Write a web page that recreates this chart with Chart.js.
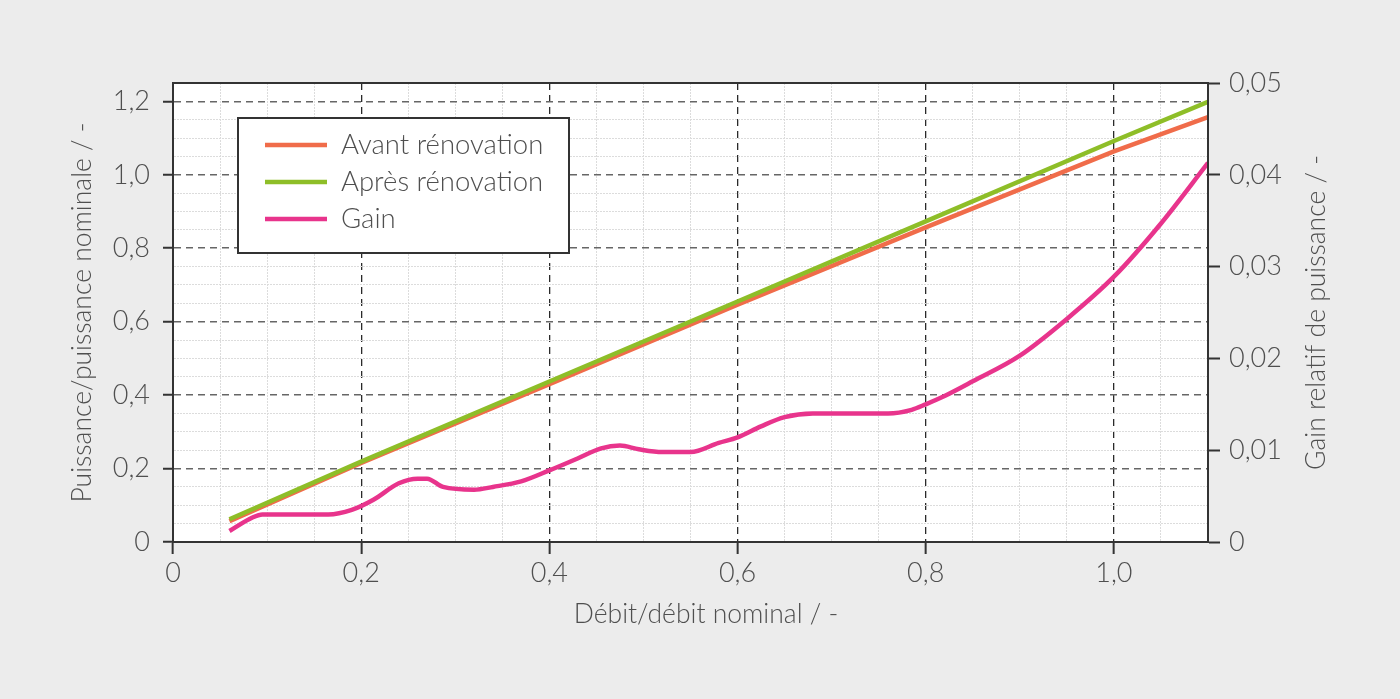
<!DOCTYPE html>
<html>
<head>
<meta charset="utf-8">
<script src="https://cdn.jsdelivr.net/npm/chart.js@4"></script>
<style>
  html, body { margin: 0; padding: 0; background: #ececec; }
  #wrap { width: 1400px; height: 699px; position: relative; }
</style>
</head>
<body>
<div id="wrap"><canvas id="chart"></canvas></div>
<script>
// puissance / puissance nominale (axe gauche)
const xPower = [0.06, 0.2, 0.4, 0.6, 0.8, 1.0, 1.1]
const avant = [0.057, 0.215, 0.430, 0.646, 0.857, 1.064, 1.157]
const apres = [0.062, 0.219, 0.437, 0.655, 0.873, 1.092, 1.199]

// gain relatif (axe droit)
const xGain = [0.06, 0.085, 0.095, 0.165, 0.19, 0.213, 0.24, 0.26, 0.27, 0.287, 0.32, 0.34, 0.37, 0.40, 0.43, 0.455, 0.475, 0.495, 0.52, 0.55, 0.58, 0.60, 0.625, 0.65, 0.68, 0.76, 0.785, 0.80, 0.82, 0.85, 0.90, 0.95, 1.0, 1.05, 1.1]
const gain = [0.0012, 0.0027, 0.0030, 0.0030, 0.0035, 0.0046, 0.0064, 0.0069, 0.0069, 0.0060, 0.0057, 0.0060, 0.0066, 0.0078, 0.0091, 0.0102, 0.0105, 0.0101, 0.0098, 0.0098, 0.0108, 0.0114, 0.0126, 0.0136, 0.0140, 0.0140, 0.0144, 0.0150, 0.0159, 0.0175, 0.0203, 0.0243, 0.0289, 0.0347, 0.0413]

const seriesLabels = ['Avant rénovation', 'Après rénovation', 'Gain']
const xTitle = 'Débit/débit nominal / -'
const yTitle = 'Puissance/puissance nominale / -'
const y2Title = 'Gain relatif de puissance / -'

const FONT = 'Lato'
const TEXT = '#4f4f4f'
const DARK = '#333'
const MINOR = '#dcdcdc'

const toPoints = (xs, ys) => xs.map((x, i) => ({ x, y: ys[i] }))
const isMajor = (v) => Math.round(v * 100) % 20 === 0
const fmt = (v, d) => (Math.abs(v) < 1e-9 ? '0' : v.toFixed(d).replace('.', ','))

const plotFrame = {
  id: 'plotFrame',
  beforeDraw(chart) {
    const { ctx, chartArea: a } = chart
    ctx.save()
    ctx.fillStyle = '#fff'
    ctx.fillRect(a.left, a.top, a.right - a.left, a.bottom - a.top)
    ctx.restore()
  },
  afterDraw(chart) {
    const { ctx, chartArea: a } = chart
    ctx.save()
    ctx.strokeStyle = DARK
    ctx.lineWidth = 2
    ctx.strokeRect(a.left, a.top, a.right - a.left, a.bottom - a.top)

    ctx.fillStyle = TEXT
    ctx.font = `300 26.5px ${FONT}`
    ctx.textAlign = 'center'
    ctx.textBaseline = 'middle'
    // titre axe x, un peu décalé à droite comme sur l'original
    ctx.fillText(xTitle, 706, 614)
    // titre axe droit, lu de bas en haut
    ctx.translate(1316, (a.top + a.bottom) / 2)
    ctx.rotate(-Math.PI / 2)
    ctx.fillText(y2Title, 0, 0)
    ctx.restore()

    // légende encadrée
    const lx = a.left + 65
    const ly = a.top + 35
    ctx.save()
    ctx.fillStyle = '#fff'
    ctx.fillRect(lx, ly, 331, 135)
    ctx.strokeStyle = DARK
    ctx.lineWidth = 2
    ctx.strokeRect(lx, ly, 331, 135)
    ctx.font = `300 27.5px ${FONT}`
    ctx.textBaseline = 'middle'
    chart.data.datasets.forEach((ds, i) => {
      const y = ly + 27 + i * 37
      ctx.strokeStyle = ds.borderColor
      ctx.lineWidth = 4.5
      ctx.beginPath()
      ctx.moveTo(lx + 27, y)
      ctx.lineTo(lx + 89, y)
      ctx.stroke()
      ctx.fillStyle = TEXT
      ctx.fillText(ds.label, lx + 103, y)
    })
    ctx.restore()
  },
}

const tickFont = { family: FONT, size: 27, weight: 300 }

new Chart(document.getElementById('chart'), {
  type: 'line',
  data: {
    datasets: [
      {
        label: seriesLabels[0],
        data: toPoints(xPower, avant),
        borderColor: 'rgb(240, 108, 74)',
        borderWidth: 4.5,
        yAxisID: 'y',
        order: 1,
      },
      {
        label: seriesLabels[1],
        data: toPoints(xPower, apres),
        borderColor: 'rgb(142, 190, 40)',
        borderWidth: 4.5,
        yAxisID: 'y',
        order: 0,
      },
      {
        label: seriesLabels[2],
        data: toPoints(xGain, gain),
        borderColor: 'rgb(232, 52, 140)',
        borderWidth: 4.5,
        yAxisID: 'y2',
        cubicInterpolationMode: 'monotone',
        order: 0,
      },
    ],
  },
  options: {
    responsive: true,
    maintainAspectRatio: false,
    animation: false,
    layout: { padding: { top: 83, left: 0, right: 0, bottom: 0 } },
    elements: { point: { radius: 0 }, line: { tension: 0, borderCapStyle: 'butt' } },
    plugins: { legend: { display: false }, tooltip: { enabled: false } },
    scales: {
      x: {
        type: 'linear',
        min: 0,
        max: 1.1,
        afterFit: (s) => { s.height = 157 },
        ticks: {
          stepSize: 0.05,
          maxTicksLimit: 100,
          autoSkip: false,
          maxRotation: 0,
          padding: 3,
          color: TEXT,
          font: tickFont,
          callback: (v) => (isMajor(v) ? fmt(v, 1) : ''),
        },
        grid: {
          color: (c) => (isMajor(c.tick.value) ? '#2a2a2a' : MINOR),
          lineWidth: (c) => (isMajor(c.tick.value) ? 1.3 : 1),
          tickLength: 12,
          tickWidth: 2,
          tickColor: (c) => (isMajor(c.tick.value) ? DARK : 'rgba(0,0,0,0)'),
        },
        border: {
          color: DARK,
          width: 2,
          dash: (c) => (isMajor(c.tick.value) ? [7, 5] : [2, 1]),
        },
      },
      y: {
        position: 'left',
        min: 0,
        max: 1.25,
        afterFit: (s) => { s.width = 173 },
        ticks: {
          stepSize: 0.05,
          maxTicksLimit: 100,
          autoSkip: false,
          padding: 13,
          color: TEXT,
          font: tickFont,
          callback: (v) => (isMajor(v) ? fmt(v, 1) : ''),
        },
        grid: {
          color: (c) => (isMajor(c.tick.value) ? '#666' : MINOR),
          lineWidth: (c) => (isMajor(c.tick.value) ? 1.5 : 1),
          tickLength: 10,
          tickWidth: 2,
          tickColor: (c) => (isMajor(c.tick.value) ? DARK : 'rgba(0,0,0,0)'),
        },
        border: {
          color: DARK,
          width: 2,
          dash: (c) => (isMajor(c.tick.value) ? [7, 5] : [2, 1]),
        },
        title: {
          display: true,
          text: yTitle,
          color: TEXT,
          font: { family: FONT, size: 26.5, weight: 300 },
          padding: { top: 67, bottom: 0 },
        },
      },
      y2: {
        position: 'right',
        min: 0,
        max: 0.05,
        afterFit: (s) => { s.width = 192 },
        ticks: {
          stepSize: 0.01,
          padding: 9,
          color: TEXT,
          font: tickFont,
          callback: (v) => fmt(v, 2),
        },
        grid: {
          drawOnChartArea: false,
          tickLength: 12,
          tickWidth: 2,
          tickColor: DARK,
        },
        border: { color: DARK, width: 2 },
      },
    },
  },
  plugins: [plotFrame],
})
</script>
</body>
</html>
